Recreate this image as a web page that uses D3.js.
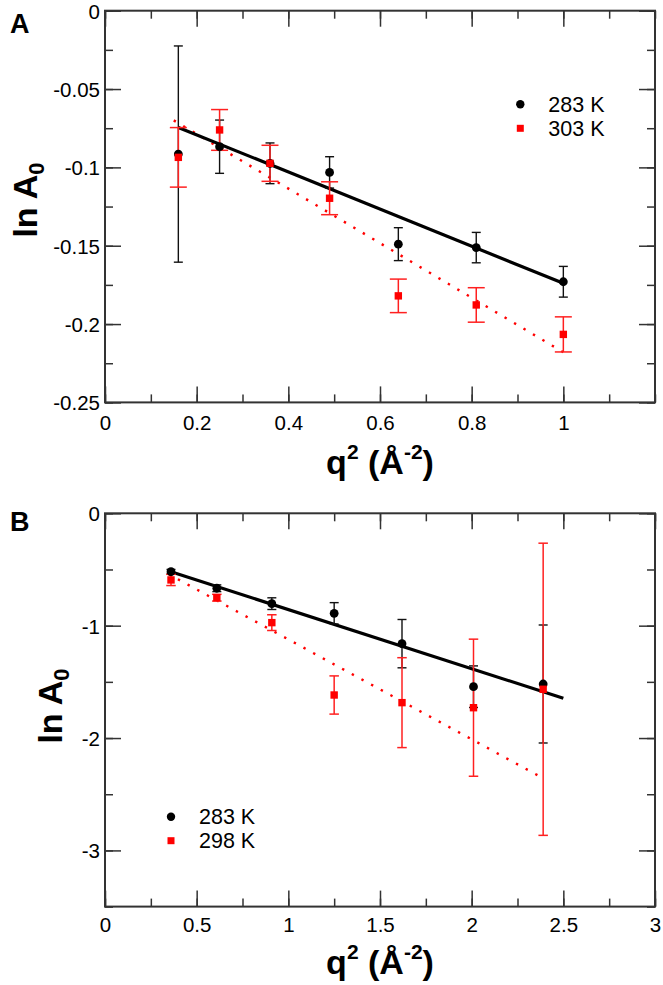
<!DOCTYPE html>
<html><head><meta charset="utf-8">
<script src="https://cdn.jsdelivr.net/npm/d3@7"></script>
<style>body{margin:0;background:#fff}svg{display:block}text{font-family:"Liberation Sans",Arial,sans-serif}</style>
</head><body>
<script>
// ---- Panel A data ----
const qA = [0.16, 0.25, 0.36, 0.49, 0.64, 0.81, 1.0];
const lnA_283 = [-0.0915, -0.0868, -0.0974, -0.1032, -0.149, -0.1512, -0.173];
const errA_283 = [0.069, 0.017, 0.013, 0.010, 0.0105, 0.0097, 0.0098];
const lnA_303 = [-0.0936, -0.0761, -0.0974, -0.1197, -0.182, -0.1878, -0.2066];
const errA_303 = [0.019, 0.013, 0.0115, 0.0105, 0.0107, 0.011, 0.0112];
const fitA_283 = [[0.16, -0.0745], [1.0, -0.174]];
const fitA_303 = [[0.15, -0.070], [1.0, -0.218]];
const xTicksA = [0, 0.2, 0.4, 0.6, 0.8, 1.0];
const xTickLabelsA = ["0", "0.2", "0.4", "0.6", "0.8", "1"];
const yTicksA = [0, -0.05, -0.1, -0.15, -0.2, -0.25];
const yTickLabelsA = ["0", "-0.05", "-0.1", "-0.15", "-0.2", "-0.25"];
const legendA = ["283 K", "303 K"];

// ---- Panel B data ----
const qB = [0.36, 0.61, 0.91, 1.25, 1.62, 2.01, 2.39];
const lnB_283 = [-0.52, -0.667, -0.804, -0.89, -1.16, -1.543, -1.519];
const errB_283 = [0.02, 0.03, 0.052, 0.095, 0.215, 0.185, 0.525];
const lnB_298 = [-0.593, -0.751, -0.973, -1.617, -1.685, -1.73, -1.566];
const errB_298 = [0.05, 0.03, 0.07, 0.17, 0.40, 0.61, 1.30];
const fitB_283 = [[0.36, -0.52], [2.5, -1.646]];
const fitB_298 = [[0.345, -0.54], [2.39, -2.358]];
const xTicksB = [0, 0.5, 1, 1.5, 2, 2.5, 3];
const xTickLabelsB = ["0", "0.5", "1", "1.5", "2", "2.5", "3"];
const yTicksB = [0, -1, -2, -3];
const yTickLabelsB = ["0", "-1", "-2", "-3"];
const legendB = ["283 K", "298 K"];

const W = 663, H = 985;
const svg = d3.select("body").append("svg").attr("width", W).attr("height", H);

function drawPanel(o) {
  const x = d3.scaleLinear().domain(o.xDom).range([105, 655]);
  const y = d3.scaleLinear().domain(o.yDom).range(o.yRange);
  const g = svg.append("g");
  const axisColor = "#333";
  const xMinor = d3.range(o.xDom[0], o.xDom[1] + 1e-9, o.xMinorStep);
  const yMinor = d3.range(o.yDom[0], o.yDom[1] - 1e-9, -o.yMinorStep);
  const y0 = o.yRange[1], y1 = o.yRange[0];
  const mk = (axis, tr) => {
    const a = g.append("g").attr("transform", tr).call(axis);
    a.select(".domain").remove();
    a.selectAll("line").attr("stroke", axisColor).attr("stroke-width", 1.5);
    a.selectAll("text").remove();
    return a;
  };
  mk(d3.axisBottom(x).tickValues(xMinor).tickSize(-8), `translate(0,${y0})`);
  mk(d3.axisTop(x).tickValues(xMinor).tickSize(-8), `translate(0,${y1})`);
  mk(d3.axisLeft(y).tickValues(yMinor).tickSize(-8), `translate(105,0)`);
  mk(d3.axisRight(y).tickValues(yMinor).tickSize(-8), `translate(655,0)`);
  mk(d3.axisTop(x).tickValues(o.xTicks).tickSize(-16), `translate(0,${y1})`);
  mk(d3.axisRight(y).tickValues(o.yTicks).tickSize(-16), `translate(655,0)`);
  const xa = g.append("g").attr("transform", `translate(0,${y0})`)
    .call(d3.axisBottom(x).tickValues(o.xTicks).tickSize(-16).tickPadding(0)
      .tickFormat((d, i) => o.xTickLabels[i]));
  xa.select(".domain").remove();
  xa.selectAll("line").attr("stroke", axisColor).attr("stroke-width", 1.5);
  xa.selectAll("text").attr("y", o.xLabelDy).attr("dy", 0).attr("font-size", 20.5)
    .attr("fill", "#000").attr("font-family", "Liberation Sans, Arial, sans-serif");
  const ya = g.append("g").attr("transform", `translate(105,0)`)
    .call(d3.axisLeft(y).tickValues(o.yTicks).tickSize(-16)
      .tickFormat((d, i) => o.yTickLabels[i]));
  ya.select(".domain").remove();
  ya.selectAll("line").attr("stroke", axisColor).attr("stroke-width", 1.5);
  ya.selectAll("text").attr("x", -5).attr("dy", "0.36em").attr("font-size", 20.5)
    .attr("fill", "#000").attr("font-family", "Liberation Sans, Arial, sans-serif");
  g.append("rect").attr("x", 105).attr("y", y1).attr("width", 550).attr("height", y0 - y1)
    .attr("fill", "none").attr("stroke", axisColor).attr("stroke-width", 2);

  const line = d3.line().x(d => x(d[0])).y(d => y(d[1]));
  g.append("path").attr("d", line(o.fitRed)).attr("stroke", "#ff0000").attr("stroke-width", 2.4)
    .attr("stroke-dasharray", "2.4 8.6").attr("fill", "none");
  g.append("path").attr("d", line(o.fitBlack)).attr("stroke", "#000").attr("stroke-width", 3.2)
    .attr("fill", "none");

  const errbars = (vals, errs, color, cap, sw) => {
    o.q.forEach((q, i) => {
      const cx = x(q), top = y(vals[i] + errs[i]), bot = y(vals[i] - errs[i]);
      g.append("line").attr("x1", cx).attr("x2", cx).attr("y1", top).attr("y2", bot)
        .attr("stroke", color).attr("stroke-width", sw);
      [top, bot].forEach(yy => g.append("line").attr("x1", cx - cap / 2).attr("x2", cx + cap / 2)
        .attr("y1", yy).attr("y2", yy).attr("stroke", color).attr("stroke-width", sw));
    });
  };
  errbars(o.black, o.blackErr, "#111", 9, 1.4);
  errbars(o.red, o.redErr, "#ff2020", o.redCap, 1.5);
  g.selectAll(null).data(o.q).enter().append("circle")
    .attr("cx", d => x(d)).attr("cy", (d, i) => y(o.black[i])).attr("r", 4.4).attr("fill", "#000");
  g.selectAll(null).data(o.q).enter().append("rect")
    .attr("x", d => x(d) - 3.7).attr("y", (d, i) => y(o.red[i]) - 3.7)
    .attr("width", 7.4).attr("height", 7.4).attr("fill", "#ff0000");

  const L = o.legend;
  g.append("circle").attr("cx", L.x).attr("cy", L.y).attr("r", 4.2).attr("fill", "#000");
  g.append("rect").attr("x", L.x - 3.5).attr("y", L.y + 24 - 3.5).attr("width", 7).attr("height", 7).attr("fill", "#ff0000");
  g.append("text").attr("x", L.x + 28).attr("y", L.y + 7.7).attr("font-size", 21.5).text(o.legendLabels[0]);
  g.append("text").attr("x", L.x + 28).attr("y", L.y + 31.7).attr("font-size", 21.5).text(o.legendLabels[1]);

  const xt = g.append("text").attr("x", 380).attr("y", o.xTitleY).attr("text-anchor", "middle")
    .attr("font-size", 34).attr("font-weight", "bold");
  xt.append("tspan").text("q");
  xt.append("tspan").attr("font-size", 21).attr("dy", -15).text("2");
  xt.append("tspan").attr("dy", 15).text(" (Å");
  xt.append("tspan").attr("font-size", 21).attr("dy", -15).text("-2");
  xt.append("tspan").attr("dy", 15).text(")");
  const yt = g.append("text").attr("transform", `translate(${o.yTitleX},${o.yTitleY}) rotate(-90)`)
    .attr("text-anchor", "middle").attr("font-size", 34).attr("font-weight", "bold");
  yt.append("tspan").text("ln A");
  yt.append("tspan").attr("font-size", 22).attr("dy", 7).text("0");
  g.append("text").attr("x", 10).attr("y", o.letterY).attr("font-size", 27).attr("font-weight", "bold").text(o.letter);
}

drawPanel({
  xDom: [0, 1.2], yDom: [0, -0.25], yRange: [10.7, 402.4], xMinorStep: 0.1, yMinorStep: 0.025,
  xTicks: xTicksA, xTickLabels: xTickLabelsA, yTicks: yTicksA, yTickLabels: yTickLabelsA,
  q: qA, black: lnA_283, blackErr: errA_283, red: lnA_303, redErr: errA_303, redCap: 17,
  fitBlack: fitA_283, fitRed: fitA_303, legend: {x: 520.3, y: 104.3}, legendLabels: legendA,
  xLabelDy: 28, xTitleY: 474, yTitleX: 37, yTitleY: 200, letter: "A", letterY: 33
});
drawPanel({
  xDom: [0, 3], yDom: [0, -3.5], yRange: [513.3, 906.6], xMinorStep: 0.25, yMinorStep: 0.5,
  xTicks: xTicksB, xTickLabels: xTickLabelsB, yTicks: yTicksB, yTickLabels: yTickLabelsB,
  q: qB, black: lnB_283, blackErr: errB_283, red: lnB_298, redErr: errB_298, redCap: 9.5,
  fitBlack: fitB_283, fitRed: fitB_298, legend: {x: 171, y: 816.7}, legendLabels: legendB,
  xLabelDy: 25, xTitleY: 974, yTitleX: 62, yTitleY: 706, letter: "B", letterY: 531
});
</script>
</body></html>
